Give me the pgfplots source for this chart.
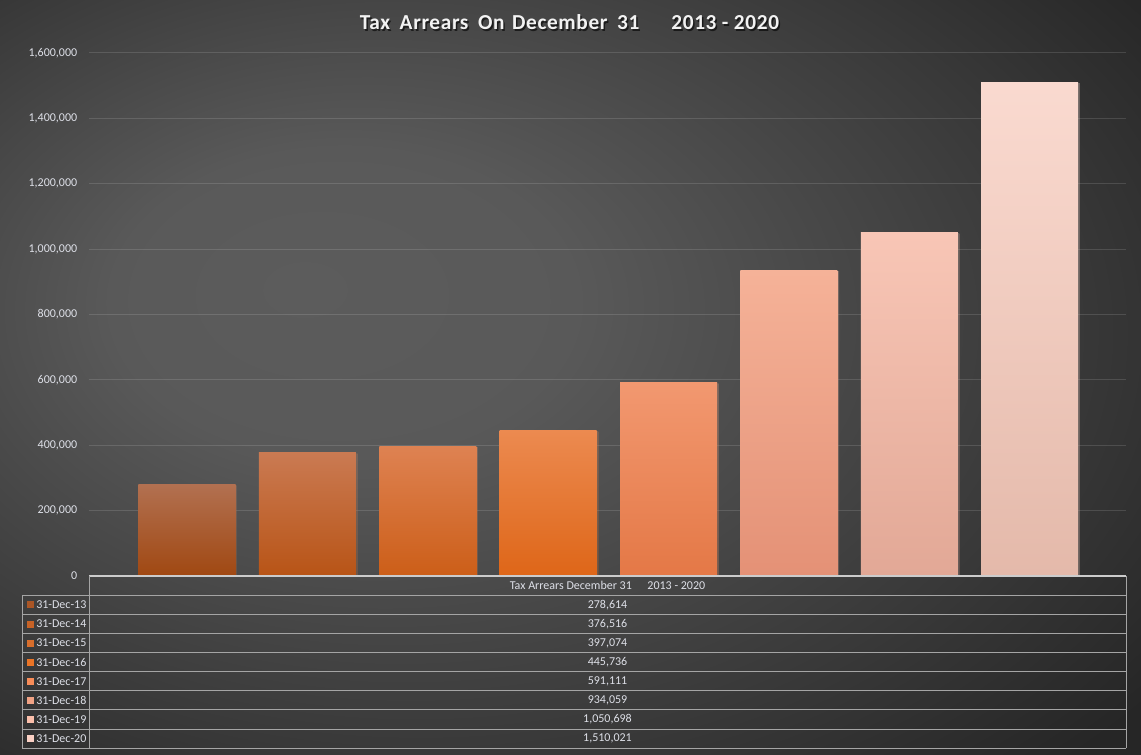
\documentclass[border=0pt]{standalone}
\usepackage{fontspec}
\setmainfont{Carlito}
\usepackage{pgfplots}
\pgfplotsset{compat=1.18}
\usetikzlibrary{shadows}

% background and text colours
\definecolor{bgmid}{RGB}{92,92,92}
\definecolor{bgedge}{RGB}{38,38,38}
\definecolor{lbl}{RGB}{222,224,232}
\definecolor{tblline}{RGB}{165,165,165}
% bar gradients: top / middle / bottom
\definecolor{b1t}{RGB}{178,112,80}\definecolor{b1m}{RGB}{170,86,38}\definecolor{b1b}{RGB}{160,72,18}
\definecolor{b2t}{RGB}{202,122,82}\definecolor{b2m}{RGB}{198,98,38}\definecolor{b2b}{RGB}{184,84,22}
\definecolor{b3t}{RGB}{222,130,82}\definecolor{b3m}{RGB}{216,110,44}\definecolor{b3b}{RGB}{204,94,24}
\definecolor{b4t}{RGB}{236,138,80}\definecolor{b4m}{RGB}{234,116,38}\definecolor{b4b}{RGB}{222,102,24}
\definecolor{b5t}{RGB}{242,152,112}\definecolor{b5m}{RGB}{247,140,88}\definecolor{b5b}{RGB}{228,120,70}
\definecolor{b6t}{RGB}{245,178,152}\definecolor{b6m}{RGB}{240,162,132}\definecolor{b6b}{RGB}{228,145,118}
\definecolor{b7t}{RGB}{248,198,182}\definecolor{b7m}{RGB}{250,190,170}\definecolor{b7b}{RGB}{226,168,150}
\definecolor{b8t}{RGB}{250,218,208}\definecolor{b8m}{RGB}{250,208,196}\definecolor{b8b}{RGB}{228,185,170}

\pgfdeclareradialshading{bgshade}{\pgfpoint{-12bp}{6bp}}{%
  color(0bp)=(bgmid); color(10bp)=(bgmid!95!bgedge); color(28bp)=(bgmid!35!bgedge);
  color(38bp)=(bgedge); color(60bp)=(bgedge)}

\pgfplotsset{
  barstyle/.style n args={3}{ybar, draw=none, top color=#1, middle color=#2, bottom color=#3,
    drop shadow={opacity=0.22, shadow xshift=1.2pt, shadow yshift=-0.6pt}},
}

\newcommand{\charttitle}{Tax\hspace{0.45em}Arrears\hspace{0.45em}On\hspace{0.35em}December\hspace{0.45em}31\hspace{1.5em}2013 - 2020}

\begin{document}
\begin{tikzpicture}[x=0.75pt, y=0.75pt]
\shade[shading=bgshade] (0,0) rectangle (1141,-755);

% title with soft shadow
\node[font=\fontsize{16}{19}\selectfont\bfseries\addfontfeature{LetterSpace=3}, text=black, opacity=0.6]
  at (571,-24) {\charttitle};
\node[font=\fontsize{16}{19}\selectfont\bfseries\addfontfeature{LetterSpace=3}, text=white!95!black]
  at (569.5,-22.5) {\charttitle};

\begin{axis}[
    at={(66.75pt,-432pt)}, anchor=south west,
    scale only axis,
    width=777.75pt, height=392.25pt,
    xmin=-0.814, xmax=7.80,
    ymin=0, ymax=1600000,
    ytick={0,200000,400000,600000,800000,1000000,1200000,1400000,1600000},
    xtick=\empty,
    scaled y ticks=false,
    axis line style={draw=none},
    major tick length=0pt,
    ymajorgrids,
    grid style={white, opacity=0.13, line width=0.75pt},
    yticklabel style={font=\fontsize{9}{10}\selectfont, text=lbl, xshift=-5.3pt,
      /pgf/number format/.cd, fixed, 1000 sep={,}, assume math mode=true},
    bar width=0.806,
    clip=false,
]
\addplot[barstyle={b1t}{b1m}{b1b}] coordinates {(0,278614)};
\addplot[barstyle={b2t}{b2m}{b2b}] coordinates {(1,376516)};
\addplot[barstyle={b3t}{b3m}{b3b}] coordinates {(2,397074)};
\addplot[barstyle={b4t}{b4m}{b4b}] coordinates {(3,445736)};
\addplot[barstyle={b5t}{b5m}{b5b}] coordinates {(4,591111)};
\addplot[barstyle={b6t}{b6m}{b6b}] coordinates {(5,934059)};
\addplot[barstyle={b7t}{b7m}{b7b}] coordinates {(6,1050698)};
\addplot[barstyle={b8t}{b8m}{b8b}] coordinates {(7,1510021)};
\end{axis}

% data table
\draw[white!80!black, line width=0.9pt] (89,-576) -- (1126,-576);
\foreach \k in {0,...,8} {
  \draw[tblline, line width=0.75pt] (22,-595.3-19.1*\k) -- (1126,-595.3-19.1*\k);
}
\draw[tblline, line width=0.75pt] (22,-595.3) -- (22,-748.1);
\draw[tblline, line width=0.75pt] (89,-576) -- (89,-748.1);
\draw[tblline, line width=0.75pt] (1126,-576) -- (1126,-748.1);

\node[font=\fontsize{9}{10}\selectfont, text=lbl] at (607.5,-585.7)
  {Tax Arrears December 31\hspace{1.3em}2013 - 2020};

\foreach \c/\lab/\val [count=\k from 0] in {
  b1m/31-Dec-13/{278,614}, b2m/31-Dec-14/{376,516}, b3m/31-Dec-15/{397,074},
  b4m/31-Dec-16/{445,736}, b5m/31-Dec-17/{591,111}, b6m/31-Dec-18/{934,059},
  b7m/31-Dec-19/{1,050,698}, b8m/31-Dec-20/{1,510,021}} {
  \fill[\c] (26.7,-604.9-19.1*\k+3.5) rectangle ++(7,-7);
  \node[font=\fontsize{9}{10}\selectfont, text=lbl, anchor=west, inner sep=0pt]
    at (36,-604.9-19.1*\k) {\lab};
  \node[font=\fontsize{9}{10}\selectfont, text=lbl] at (607.5,-604.9-19.1*\k) {\val};
}

\pgfresetboundingbox
\path (0,0) rectangle (1141,-755);
\end{tikzpicture}
\end{document}
